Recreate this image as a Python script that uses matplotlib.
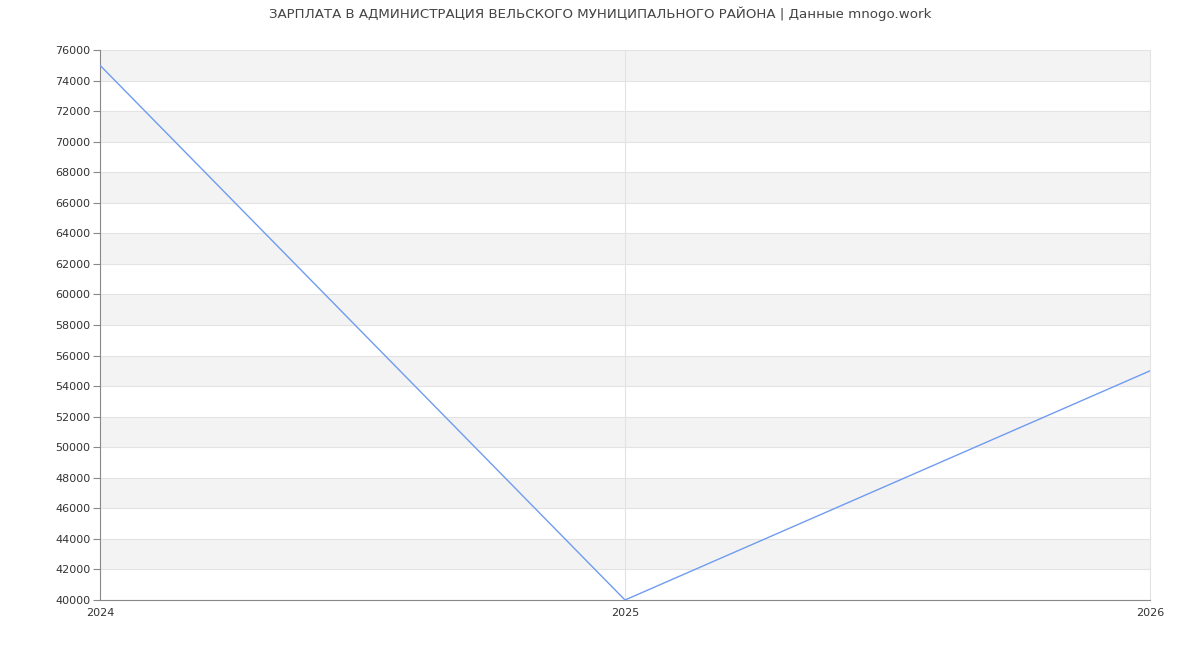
import matplotlib
matplotlib.use("Agg")
import matplotlib.pyplot as plt

# данные
years = [2024, 2025, 2026]
salary = [75000, 40000, 55000]
y_ticks = list(range(40000, 76001, 2000))

fig = plt.figure(figsize=(12, 6.5), dpi=100)
ax = fig.add_axes([100 / 1200, 50 / 650, 1050 / 1200, 550 / 650])

# полосы фона
for lo in range(42000, 76000, 4000):
    ax.axhspan(lo, lo + 2000, color="#f3f3f3", zorder=0, lw=0)
for t in y_ticks:
    ax.axhline(t, color="#e3e3e3", lw=0.8, zorder=1)
for x in years[1:]:
    ax.axvline(x, color="#e3e3e3", lw=0.8, zorder=1, clip_on=False)

ax.plot(years, salary, color="#6f9cf0", lw=1.0, zorder=3)

ax.set_xlim(2024, 2026)
ax.set_ylim(40000, 76000)
ax.set_xticks(years)
ax.set_xticklabels([str(y) for y in years])
ax.set_yticks(y_ticks)
ax.set_yticklabels([str(t) for t in y_ticks])

for s in ["top", "right"]:
    ax.spines[s].set_visible(False)
for s in ["left", "bottom"]:
    ax.spines[s].set_color("#888888")
    ax.spines[s].set_linewidth(0.8)

ax.tick_params(axis="y", length=5, color="#888888", labelsize=8, labelcolor="#333333", pad=2)
ax.tick_params(axis="x", length=0, labelsize=8, labelcolor="#333333", pad=6)

fig.suptitle("ЗАРПЛАТА В АДМИНИСТРАЦИЯ ВЕЛЬСКОГО МУНИЦИПАЛЬНОГО РАЙОНА | Данные mnogo.work",
             y=0.99, fontsize=9.6, color="#444444")

fig.savefig("out.png", dpi=100)
